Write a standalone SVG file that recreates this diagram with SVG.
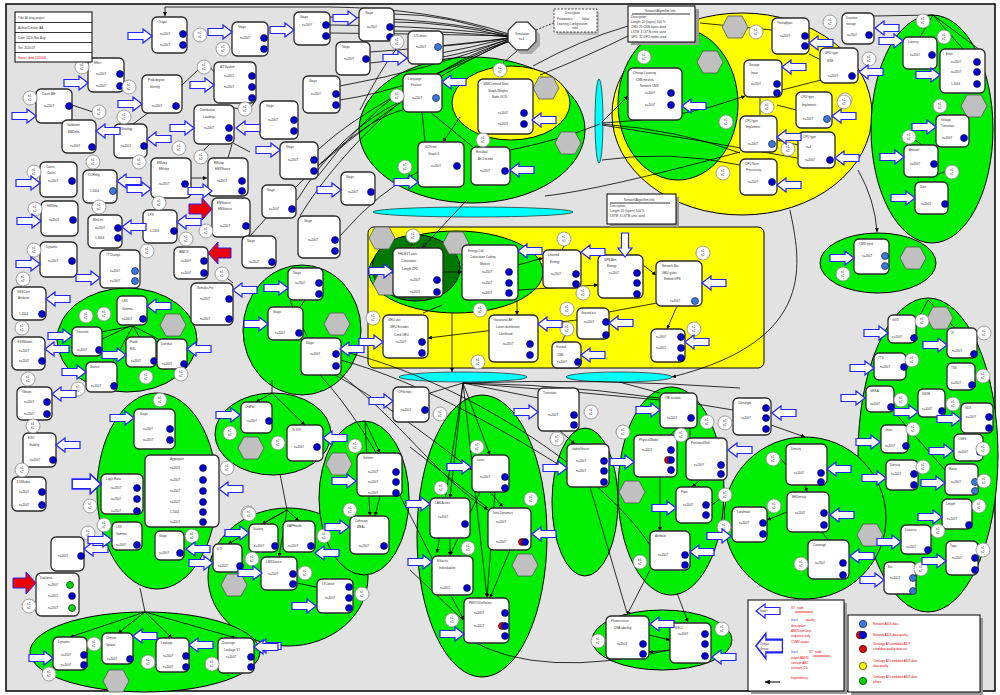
<svg xmlns="http://www.w3.org/2000/svg" xmlns:xlink="http://www.w3.org/1999/xlink" width="1000" height="695" viewBox="0 0 1000 695">
<style>
.t{font-family:"Liberation Sans",Arial,sans-serif;font-size:3px;fill:#333}
.tr{font-family:"Liberation Sans",Arial,sans-serif;font-size:3px;fill:#e00000}
.tb{font-family:"Liberation Sans",Arial,sans-serif;font-size:3px;fill:#3050ff}
.nd rect{fill:#fff;stroke:#2a2a2a;stroke-width:1.3}
.nd circle{fill:#0000d4;stroke:#111;stroke-width:.6}
.nd circle.lt{fill:#3a78e0}
.nd circle.rd{fill:#e00000}
.nd circle.gn{fill:#00d400}
.gr{fill:#00ee00;stroke:#000;stroke-width:1}
.yw{fill:#ffff00;stroke:#000;stroke-width:1}
.dg{fill:#007800;stroke:#000;stroke-width:1}
.cy{fill:#00ffff;stroke:#000;stroke-width:.6}
.hx{fill:#c0c0c0;stroke:#555;stroke-width:.8}
.ba{fill:#fff;stroke:#2222ff;stroke-width:1.2}
.ra{fill:#ee0000;stroke:#2222ff;stroke-width:1}
.cn path{stroke:#000;stroke-width:.8;fill:none}
.bx{fill:#fff;stroke:#000;stroke-width:1}
</style>
<defs>
<path id="ar" d="M0,0 L-9,-7 L-9,-3.5 L-24,-3.5 L-24,3.5 L-9,3.5 L-9,7 Z"/>
<path id="rar" d="M0,0 L-10,-11 L-10,-5 L-23,-5 L-23,5 L-10,5 L-10,11 Z"/>
<polygon id="hx" points="-13,0 -7,-11 7,-11 13,0 7,11 -7,11"/>
<g id="lc"><circle r="7" fill="#fff" stroke="#888" stroke-width=".8"/><text class="t" x="-2" y="-1">n1</text><text class="t" x="-2" y="3">n2</text></g>
<marker id="m" viewBox="0 0 6 6" refX="6" refY="3" markerWidth="5" markerHeight="5" orient="auto"><path d="M0,0 L6,3 L0,6 Z" fill="#000"/></marker>
</defs>
<rect width="1000" height="695" fill="#fff"/>
<rect x="6" y="4" width="989" height="687" fill="#e2e2e2" stroke="#000" stroke-width="1.5"/>

<g id="regions">
<ellipse class="gr" cx="472" cy="130" rx="113" ry="73"/>
<ellipse class="yw" cx="511" cy="103" rx="59" ry="37"/>
<ellipse class="yw" cx="742" cy="114" rx="130" ry="101"/>
<ellipse class="gr" cx="678" cy="104" rx="60" ry="76"/>
<ellipse class="gr" cx="932" cy="129" rx="61" ry="114"/>
<ellipse class="gr" cx="878" cy="263" rx="58" ry="30"/>
<ellipse class="gr" cx="928" cy="455" rx="70" ry="157"/>
<rect class="yw" x="368" y="227" width="396" height="141" rx="6"/>
<ellipse class="gr" cx="456" cy="272" rx="87" ry="41"/>
<ellipse class="dg" cx="416" cy="268" rx="44" ry="33"/>
<ellipse class="gr" cx="127" cy="340" rx="70" ry="52"/>
<ellipse class="gr" cx="302" cy="330" rx="59" ry="65"/>
<ellipse class="gr" cx="157" cy="491" rx="60" ry="98"/>
<ellipse class="gr" cx="273" cy="434" rx="58" ry="41"/>
<ellipse class="gr" cx="288" cy="577" rx="80" ry="69"/>
<ellipse class="gr" cx="364" cy="498" rx="45" ry="77"/>
<ellipse class="gr" cx="145" cy="652" rx="115" ry="40"/>
<ellipse class="gr" cx="482" cy="536" rx="65" ry="141"/>
<ellipse class="gr" cx="585" cy="502" rx="33" ry="74"/>
<ellipse class="gr" cx="671" cy="491" rx="53" ry="104"/>
<ellipse class="gr" cx="805" cy="518" rx="81" ry="81"/>
<ellipse class="gr" cx="662" cy="640" rx="70" ry="30"/>
<ellipse class="cy" cx="473" cy="212" rx="100" ry="5"/>
<ellipse class="cy" cx="463" cy="377" rx="64" ry="5"/>
<ellipse class="cy" cx="619" cy="377" rx="53" ry="5"/>
<ellipse class="cy" cx="599" cy="121" rx="4" ry="42"/>
</g>

<g id="connectors" class="cn">
<path d="M165,7 L330,7 Q430,8 509,34"/>
<path d="M165,7 L165,16" marker-end="url(#m)"/>
<path d="M509,35 Q440,18 330,17"/>
<path d="M509,36 Q440,26 330,25"/>
<path d="M509,36 Q430,34 330,33"/>
<path d="M509,37 Q450,14 394,14"/>
<path d="M509,37 Q450,22 394,22"/>
<path d="M509,37 Q450,31 394,31"/>
<path d="M509,38 Q430,48 370,52"/>
<path d="M509,38 Q430,58 370,63"/>
<path d="M509,38 Q470,44 443,46"/>
<path d="M509,39 Q470,52 443,57"/>
<path d="M509,39 Q430,70 340,86"/>
<path d="M509,40 Q420,88 340,100"/>
<path d="M509,40 C440,70 360,110 318,150"/>
<path d="M509,41 C420,80 350,140 318,166"/>
<path d="M536,30 L556,22" stroke-dasharray="2,1.5"/>
<path d="M518,50 L503,63"/>
<path d="M533,66 Q580,40 628,26"/>
<path d="M540,75 Q590,55 628,36"/>
<path d="M297,200 Q340,130 403,100"/>
<path d="M318,176 Q360,120 403,90"/>
<path d="M340,236 Q380,190 418,172"/>
<path d="M300,216 C340,150 430,60 509,42"/>
<path d="M250,236 C300,180 360,120 403,110"/>
<path d="M360,110 Q380,70 397,48"/>
<path d="M422,112 L425,142"/>
<path d="M430,112 L473,147"/>
<path d="M460,117 L443,142" marker-end="url(#m)"/>
<path d="M503,77 L500,75"/>
<path d="M510,150 Q560,140 600,124"/>
<path d="M545,196 Q600,190 740,152"/>
<path d="M467,200 L422,248" marker-end="url(#m)"/>
<path d="M602,122 L628,96" marker-end="url(#m)"/>
<path d="M602,123 Q680,120 745,96" marker-end="url(#m)"/>
<path d="M602,124 Q680,130 740,153"/>
<path d="M602,125 Q700,140 797,158"/>
<path d="M602,160 Q670,150 740,165"/>
<path d="M782,90 L821,80"/>
<path d="M777,105 L796,110"/>
<path d="M760,97 L760,116"/>
<path d="M777,140 L798,145"/>
<path d="M809,54 L821,60"/>
<path d="M700,23 L772,30"/>
<path d="M790,210 C800,260 820,340 672,377" marker-end="url(#m)"/>
<path d="M858,170 Q875,200 877,232" marker-end="url(#m)"/>
<path d="M874,16 L933,15"/>
<path d="M933,15 L920,37"/>
<path d="M933,15 L963,49"/>
<path d="M933,15 L980,50"/>
<path d="M922,145 L915,140"/>
<path d="M930,177 L950,170"/>
<path d="M182,85 L198,70"/>
<path d="M210,67 L214,72"/>
<path d="M148,113 L133,124"/>
<path d="M234,108 L240,109"/>
<path d="M251,107 L256,100"/>
<path d="M210,144 L203,151"/>
<path d="M233,143 L250,152"/>
<path d="M191,178 L207,178" marker-end="url(#m)"/>
<path d="M228,158 L232,144"/>
<path d="M124,85 L129,87"/>
<path d="M72,105 L93,112"/>
<path d="M246,236 L250,244"/>
<path d="M159,210 L159,203"/>
<path d="M222,274 L233,283"/>
<path d="M133,326 L95,333"/>
<path d="M133,326 L100,385"/>
<path d="M133,326 L140,338"/>
<path d="M133,326 L162,341"/>
<path d="M100,340 L130,326"/>
<path d="M300,375 C330,360 300,330 290,300"/>
<path d="M305,300 L300,307"/>
<path d="M330,372 C380,400 420,430 472,470" marker-end="url(#m)"/>
<path d="M335,370 C400,420 440,480 488,510" marker-end="url(#m)"/>
<path d="M320,375 C380,440 420,540 464,620" marker-end="url(#m)"/>
<path d="M340,360 C420,380 520,440 567,470"/>
<path d="M345,352 C460,380 600,470 650,545"/>
<path d="M410,447 L488,508"/>
<path d="M410,570 L463,620"/>
<path d="M272,380 L272,393"/>
<path d="M272,393 L256,402" marker-end="url(#m)"/>
<path d="M272,393 L305,425" marker-end="url(#m)"/>
<path d="M280,474 L287,510"/>
<path d="M287,510 L262,524" marker-end="url(#m)"/>
<path d="M287,510 L299,521" marker-end="url(#m)"/>
<path d="M287,510 L228,544" marker-end="url(#m)"/>
<path d="M287,510 L279,557" marker-end="url(#m)"/>
<path d="M297,583 L330,590"/>
<path d="M365,421 L380,453" marker-end="url(#m)"/>
<path d="M365,421 L370,516" marker-end="url(#m)"/>
<path d="M380,496 L375,516" marker-end="url(#m)"/>
<path d="M140,588 L145,612"/>
<path d="M145,612 L70,637" marker-end="url(#m)"/>
<path d="M145,612 L118,633" marker-end="url(#m)"/>
<path d="M145,612 L172,638" marker-end="url(#m)"/>
<path d="M145,612 L236,638" marker-end="url(#m)"/>
<path d="M463,383 L430,393"/>
<path d="M463,383 L538,398"/>
<path d="M463,383 L490,455" marker-end="url(#m)"/>
<path d="M463,383 L450,498" marker-end="url(#m)"/>
<path d="M463,383 L437,553" marker-end="url(#m)"/>
<path d="M463,383 L487,597" marker-end="url(#m)"/>
<path d="M463,383 Q560,390 660,400"/>
<path d="M463,383 Q600,385 733,410"/>
<path d="M463,383 Q600,378 740,388"/>
<path d="M452,313 L452,372" marker-end="url(#m)"/>
<path d="M490,492 L503,507" marker-end="url(#m)"/>
<path d="M480,492 L450,555" marker-end="url(#m)"/>
<path d="M495,492 L487,598" marker-end="url(#m)"/>
<path d="M510,550 L490,598" marker-end="url(#m)"/>
<path d="M450,538 L450,556" marker-end="url(#m)"/>
<path d="M590,487 L627,613"/>
<path d="M560,431 L575,444" marker-end="url(#m)"/>
<path d="M690,428 L690,438"/>
<path d="M678,428 L670,435"/>
<path d="M660,477 L660,531" marker-end="url(#m)"/>
<path d="M700,480 L692,487" marker-end="url(#m)"/>
<path d="M712,505 L725,495"/>
<path d="M650,570 L627,615" marker-end="url(#m)"/>
<path d="M677,593 L688,622" marker-end="url(#m)"/>
<path d="M619,382 L660,393"/>
<path d="M649,635 L670,640" marker-end="url(#m)"/>
<path d="M670,650 L649,652" marker-end="url(#m)"/>
<path d="M470,640 Q540,680 670,650"/>
<path d="M771,425 L805,437" marker-end="url(#m)"/>
<path d="M805,485 L807,492" marker-end="url(#m)"/>
<path d="M787,512 L767,520" marker-end="url(#m)"/>
<path d="M822,532 L828,540"/>
<path d="M781,459 L786,465"/>
<path d="M894,400 L901,400"/>
<path d="M907,430 L913,429"/>
<path d="M928,300 L907,340"/>
<path d="M928,300 L955,328"/>
<path d="M894,412 L945,470"/>
<path d="M443,272 L462,272" marker-end="url(#m)"/>
<path d="M518,265 L543,258" marker-end="url(#m)"/>
<path d="M518,290 L598,285" marker-end="url(#m)"/>
<path d="M643,265 L656,275" marker-end="url(#m)"/>
<path d="M423,313 L442,305"/>
<path d="M517,300 L517,315" marker-end="url(#m)"/>
<path d="M577,320 L428,338" marker-end="url(#m)"/>
<path d="M609,312 L657,303"/>
<path d="M677,306 L667,329" marker-end="url(#m)"/>
<path d="M567,330 L562,342"/>
<path d="M413,243 L410,248"/>
<path d="M564,246 L562,250"/>
</g>

<g id="octagon">
<polygon points="539.9,45.7 531.7,53.9 520.3,53.9 512.1,45.7 512.1,34.3 520.3,26.1 531.7,26.1 539.9,34.3" fill="#aaa"/>
<polygon points="535.9,41.7 527.7,49.9 516.3,49.9 508.1,41.7 508.1,30.3 516.3,22.1 527.7,22.1 535.9,30.3" fill="#fff" stroke="#333" stroke-width="1.2"/>
<text class="t" x="515" y="35">Simulation</text><text class="t" x="519" y="40">n=1</text>
</g>

<g id="hexagons">
<use href="#hx" class="hx" x="173" y="325"/><use href="#hx" class="hx" x="337" y="324"/>
<use href="#hx" class="hx" x="116" y="681"/><use href="#hx" class="hx" x="251" y="448"/>
<use href="#hx" class="hx" x="339" y="464"/><use href="#hx" class="hx" x="234" y="585"/>
<use href="#hx" class="hx" x="525" y="565"/><use href="#hx" class="hx" x="632" y="492"/>
<use href="#hx" class="hx" x="870" y="535"/><use href="#hx" class="hx" x="940" y="318"/>
<use href="#hx" class="hx" x="974" y="106"/><use href="#hx" class="hx" x="710" y="62"/>
<use href="#hx" class="hx" x="735" y="27"/><use href="#hx" class="hx" x="913" y="258"/>
<use href="#hx" class="hx" x="546" y="88"/><use href="#hx" class="hx" x="568" y="143"/>
<use href="#hx" class="hx" x="382" y="238"/><use href="#hx" class="hx" x="386" y="284"/>
<use href="#hx" class="hx" x="456" y="243"/>
</g>

<g id="n01" class="nd"><rect x="152" y="17" width="35" height="36" rx="5"/><circle cx="183" cy="34" r="3.5"/><circle cx="183" cy="45" r="3.5"/><text class="t" x="158" y="23">Output</text><text class="t" x="160" y="35">n=2007</text><text class="t" x="160" y="46">n=2007</text></g>
<g id="n02" class="nd"><rect x="232" y="22" width="36" height="34" rx="5"/><circle cx="264" cy="38" r="3.5"/><circle cx="264" cy="49" r="3.5"/><text class="t" x="238" y="28">Stage</text><text class="t" x="240" y="39">n=2007</text></g>
<g id="n03" class="nd"><rect x="294" y="12" width="36" height="33" rx="5"/><circle cx="326" cy="25" r="3.5"/><circle cx="326" cy="36" r="3.5"/><text class="t" x="300" y="18">Stage</text><text class="t" x="302" y="26">n=2007</text></g>
<g id="n04" class="nd"><rect x="359" y="8" width="35" height="33" rx="5"/><circle cx="390" cy="27" r="3.5"/><circle cx="390" cy="37" r="3.5"/><text class="t" x="365" y="14">Stage</text><text class="t" x="367" y="28">n=2007</text></g>
<g id="n05" class="nd"><rect x="336" y="42" width="34" height="33" rx="5"/><circle cx="366" cy="59" r="3.5"/><text class="t" x="342" y="48">Stage</text><text class="t" x="344" y="60">n=2007</text></g>
<g id="n06" class="nd"><rect x="408" y="31" width="35" height="33" rx="5"/><circle class="lt" cx="438" cy="47" r="3.5"/><text class="t" x="414" y="37">LTCohort</text><text class="t" x="416" y="48">n=2007</text></g>
<g id="n07" class="nd"><rect x="214" y="62" width="42" height="41" rx="5"/><circle cx="252" cy="76" r="3.5"/><circle cx="252" cy="87" r="3.5"/><circle cx="252" cy="98" r="3.5"/><text class="t" x="220" y="68">AITSystem</text><text class="t" x="224" y="77">n=2007</text><text class="t" x="224" y="88">n=2007</text></g>
<g id="n08" class="nd"><rect x="303" y="76" width="37" height="37" rx="5"/><circle cx="336" cy="94" r="3.5"/><circle cx="336" cy="105" r="3.5"/><text class="t" x="309" y="82">Stage</text><text class="t" x="311" y="95">n=2007</text></g>
<g id="n09" class="nd"><rect x="142" y="75" width="40" height="38" rx="5"/><circle cx="176" cy="106" r="3.5"/><text class="t" x="148" y="81">Prob.degree</text><text class="t" x="150" y="88">Identity</text><text class="t" x="152" y="107">n=2007</text></g>
<g id="n10" class="nd"><rect x="194" y="105" width="40" height="39" rx="5"/><circle cx="229" cy="128" r="3.5"/><circle cx="229" cy="138" r="3.5"/><text class="t" x="200" y="111">Distribution</text><text class="t" x="203" y="118">Loadings</text><text class="t" x="204" y="129">n=2007</text></g>
<g id="n11" class="nd"><rect x="260" y="101" width="38" height="38" rx="5"/><circle cx="294" cy="120" r="3.5"/><circle cx="294" cy="131" r="3.5"/><text class="t" x="266" y="107">Stage</text><text class="t" x="268" y="121">n=2007</text></g>
<g id="n12" class="nd"><rect x="280" y="142" width="38" height="37" rx="5"/><circle cx="314" cy="160" r="3.5"/><circle cx="314" cy="171" r="3.5"/><text class="t" x="286" y="148">Stage</text><text class="t" x="288" y="161">n=2007</text></g>
<g id="n13" class="nd"><rect x="88" y="58" width="36" height="34" rx="5"/><circle cx="120" cy="74" r="3.5"/><circle cx="120" cy="86" r="3.5"/><text class="t" x="94" y="64">Effect</text><text class="t" x="96" y="75">n=2007</text><text class="t" x="96" y="87">n=2007</text></g>
<g id="n14" class="nd"><rect x="36" y="89" width="36" height="34" rx="5"/><circle cx="69" cy="106" r="3.5"/><text class="t" x="42" y="95">Count ME</text><text class="t" x="44" y="107">n=2007</text></g>
<g id="n15" class="nd"><rect x="62" y="120" width="34" height="33" rx="5"/><circle cx="92" cy="147" r="3.5"/><text class="t" x="67" y="126">Validation</text><text class="t" x="68" y="133">EMDelta</text><text class="t" x="70" y="147">n=2007</text></g>
<g id="n16" class="nd"><rect x="114" y="124" width="33" height="34" rx="5"/><circle cx="144" cy="146" r="3.5"/><text class="t" x="119" y="130">NStrategy</text><text class="t" x="121" y="147">n=2007</text></g>
<g id="n17" class="nd"><rect x="40" y="162" width="37" height="35" rx="5"/><circle cx="72" cy="181" r="3.5"/><text class="t" x="46" y="168">Cases</text><text class="t" x="47" y="174">Cases</text><text class="t" x="48" y="182">n=2007</text></g>
<g id="n18" class="nd"><rect x="83" y="170" width="34" height="33" rx="5"/><circle class="lt" cx="113" cy="191" r="3.5"/><text class="t" x="88" y="176">CORtility</text><text class="t" x="90" y="192">1.0004</text></g>
<g id="n19" class="nd"><rect x="151" y="158" width="40" height="40" rx="5"/><circle cx="185" cy="184" r="3.5"/><text class="t" x="157" y="164">EMstep</text><text class="t" x="159" y="170">EMstep</text><text class="t" x="159" y="185">n=2007</text></g>
<g id="n20" class="nd"><rect x="208" y="158" width="40" height="38" rx="5"/><circle cx="242" cy="181" r="3.5"/><circle cx="242" cy="191" r="3.5"/><text class="t" x="214" y="164">RRstep</text><text class="t" x="215" y="170">EM3Stance</text><text class="t" x="217" y="182">n=2007</text></g>
<g id="n21" class="nd"><rect x="262" y="185" width="34" height="33" rx="5"/><circle cx="292" cy="209" r="3.5"/><text class="t" x="267" y="191">Stage</text><text class="t" x="269" y="210">n=2007</text></g>
<g id="n22" class="nd"><rect x="341" y="172" width="34" height="33" rx="5"/><circle cx="371" cy="192" r="3.5"/><text class="t" x="346" y="178">Stage</text><text class="t" x="348" y="193">n=2007</text></g>
<g id="n23" class="nd"><rect x="212" y="198" width="38" height="39" rx="5"/><circle cx="246" cy="226" r="3.5"/><text class="t" x="217" y="204">EMStance</text><text class="t" x="218" y="210">EMStance</text><text class="t" x="220" y="227">n=2007</text></g>
<g id="n24" class="nd"><rect x="298" y="216" width="42" height="42" rx="5"/><circle cx="335" cy="240" r="3.5"/><circle cx="335" cy="251" r="3.5"/><text class="t" x="304" y="222">Stage</text><text class="t" x="308" y="241">n=2007</text></g>
<g id="n25" class="nd"><rect x="242" y="236" width="34" height="32" rx="5"/><circle cx="272" cy="262" r="3.5"/><text class="t" x="247" y="242">Stage</text><text class="t" x="249" y="263">n=2007</text></g>
<g id="n26" class="nd"><rect x="174" y="247" width="34" height="32" rx="5"/><circle cx="204" cy="261" r="3.5"/><circle cx="204" cy="273" r="3.5"/><text class="t" x="179" y="253">IAMCS</text><text class="t" x="181" y="262">n=2007</text><text class="t" x="181" y="274">n=2007</text></g>
<g id="n27" class="nd"><rect x="143" y="210" width="34" height="33" rx="5"/><circle cx="174" cy="231" r="3.5"/><text class="t" x="148" y="216">LPS</text><text class="t" x="150" y="232">1.2004</text></g>
<g id="n28" class="nd"><rect x="88" y="215" width="34" height="33" rx="5"/><circle cx="118" cy="228" r="3.5"/><circle cx="118" cy="238" r="3.5"/><text class="t" x="93" y="221">MinLen</text><text class="t" x="95" y="229">n=2007</text><text class="t" x="95" y="239">1.2004</text></g>
<g id="n29" class="nd"><rect x="100" y="250" width="40" height="38" rx="5"/><circle class="lt" cx="135" cy="271" r="3.5"/><circle class="lt" cx="135" cy="281" r="3.5"/><text class="t" x="106" y="256">TTChange</text><text class="t" x="110" y="272">n=2007</text><text class="t" x="110" y="282">n=2007</text></g>
<g id="n30" class="nd"><rect x="41" y="201" width="37" height="35" rx="5"/><circle cx="73" cy="220" r="3.5"/><text class="t" x="47" y="207">EMStep</text><text class="t" x="49" y="221">n=2007</text></g>
<g id="n31" class="nd"><rect x="40" y="242" width="37" height="35" rx="5"/><circle cx="72" cy="261" r="3.5"/><text class="t" x="46" y="248">Dynamic</text><text class="t" x="48" y="262">n=2007</text></g>
<g id="n32" class="nd"><rect x="191" y="283" width="42" height="42" rx="5"/><circle cx="229" cy="299" r="3.5"/><circle cx="229" cy="319" r="3.5"/><text class="t" x="197" y="289">Stimulus Fix</text><text class="t" x="200" y="300">n=2007</text><text class="t" x="200" y="320">n=2007</text></g>
<g id="n33" class="nd"><rect x="12" y="287" width="34" height="33" rx="5"/><circle cx="42" cy="314" r="3.5"/><text class="t" x="17" y="293">GSSCore</text><text class="t" x="18" y="299">Attribute</text><text class="t" x="19" y="315">1.2004</text></g>
<g id="n34" class="nd"><rect x="12" y="337" width="33" height="33" rx="5"/><circle cx="42" cy="361" r="3.5"/><text class="t" x="17" y="343">GSSModes</text><text class="t" x="19" y="352">n=2007</text><text class="t" x="19" y="362">n=2007</text></g>
<g id="n35" class="nd"><rect x="117" y="296" width="30" height="29" rx="5"/><circle cx="143" cy="319" r="3.5"/><text class="t" x="122" y="302">LBS</text><text class="t" x="122" y="310">Gamma</text><text class="t" x="122" y="320">n=2007</text></g>
<g id="n36" class="nd"><rect x="72" y="327" width="30" height="29" rx="5"/><circle cx="99" cy="350" r="3.5"/><text class="t" x="76" y="333">Transient</text><text class="t" x="77" y="351">n=2007</text></g>
<g id="n37" class="nd"><rect x="126" y="337" width="30" height="30" rx="5"/><circle cx="154" cy="361" r="3.5"/><text class="t" x="130" y="343">Flood</text><text class="t" x="130" y="350">RXL</text><text class="t" x="131" y="362">n=2007</text></g>
<g id="n38" class="nd"><rect x="157" y="339" width="30" height="30" rx="5"/><circle cx="184" cy="364" r="3.5"/><text class="t" x="161" y="345">Distribut</text><text class="t" x="162" y="365">n=2007</text></g>
<g id="n39" class="nd"><rect x="86" y="362" width="31" height="30" rx="5"/><circle cx="114" cy="386" r="3.5"/><text class="t" x="90" y="368">Stance</text><text class="t" x="91" y="387">n=2007</text></g>
<g id="n40" class="nd"><rect x="288" y="268" width="35" height="32" rx="5"/><circle cx="319" cy="283" r="3.5"/><circle cx="319" cy="294" r="3.5"/><text class="t" x="293" y="274">Stage</text><text class="t" x="295" y="284">n=2007</text></g>
<g id="n41" class="nd"><rect x="268" y="307" width="35" height="33" rx="5"/><circle cx="299" cy="333" r="3.5"/><text class="t" x="273" y="313">Stage</text><text class="t" x="275" y="334">n=2007</text></g>
<g id="n42" class="nd"><rect x="301" y="338" width="40" height="37" rx="5"/><circle cx="336" cy="354" r="3.5"/><circle cx="336" cy="366" r="3.5"/><text class="t" x="306" y="344">Stage</text><text class="t" x="310" y="355">n=2007</text></g>
<g id="n43" class="nd"><rect x="17" y="387" width="35" height="33" rx="5"/><circle cx="47" cy="402" r="3.5"/><circle cx="47" cy="414" r="3.5"/><text class="t" x="22" y="393">Vibrate</text><text class="t" x="24" y="403">n=2007</text><text class="t" x="24" y="415">n=2007</text></g>
<g id="n44" class="nd"><rect x="23" y="433" width="33" height="34" rx="5"/><circle cx="53" cy="460" r="3.5"/><text class="t" x="28" y="439">EGO</text><text class="t" x="29" y="446">Stability</text><text class="t" x="30" y="461">n=2007</text></g>
<g id="n45" class="nd"><rect x="12" y="477" width="34" height="34" rx="5"/><circle cx="42" cy="492" r="3.5"/><circle cx="42" cy="505" r="3.5"/><text class="t" x="17" y="483">DDModes</text><text class="t" x="19" y="493">n=2007</text><text class="t" x="19" y="506">n=2007</text></g>
<g id="n46" class="nd"><rect x="134" y="409" width="41" height="40" rx="5"/><circle cx="170" cy="429" r="3.5"/><circle cx="170" cy="440" r="3.5"/><text class="t" x="140" y="415">Stage</text><text class="t" x="143" y="430">n=2007</text><text class="t" x="143" y="441">n=2007</text></g>
<g id="n47" class="nd"><rect x="145" y="455" width="74" height="72" rx="5"/><circle cx="203" cy="468" r="3.5"/><circle cx="203" cy="480" r="3.5"/><circle cx="203" cy="491" r="3.5"/><circle cx="203" cy="502" r="3.5"/><circle cx="203" cy="512" r="3.5"/><circle cx="203" cy="522" r="3.5"/><text class="t" x="170" y="460">Aggregate</text><text class="t" x="170" y="469">n=2007</text><text class="t" x="170" y="481">n=2007</text><text class="t" x="170" y="492">n=2007</text><text class="t" x="170" y="503">n=2007</text><text class="t" x="170" y="513">1.2004</text><text class="t" x="170" y="523">n=2007</text></g>
<g id="n48" class="nd"><rect x="101" y="474" width="42" height="40" rx="5"/><circle cx="137" cy="488" r="3.5"/><circle cx="137" cy="499" r="3.5"/><circle cx="137" cy="511" r="3.5"/><text class="t" x="106" y="480">Logic.Ratio</text><text class="t" x="111" y="489">n=2007</text><text class="t" x="111" y="500">n=2007</text><text class="t" x="111" y="512">n=2007</text></g>
<g id="n49" class="nd"><rect x="112" y="522" width="30" height="28" rx="5"/><circle cx="137" cy="545" r="3.5"/><text class="t" x="116" y="528">LSS</text><text class="t" x="116" y="535">Gamma</text><text class="t" x="116" y="546">n=2007</text></g>
<g id="n50" class="nd"><rect x="155" y="531" width="29" height="29" rx="5"/><circle cx="180" cy="553" r="3.5"/><text class="t" x="159" y="537">Stage</text><text class="t" x="159" y="554">n=2007</text></g>
<g id="n51" class="nd"><rect x="51" y="537" width="33" height="34" rx="5"/><circle cx="81" cy="556" r="3.5"/><text class="t" x="58" y="557">n=2007</text></g>
<g id="n52" class="nd"><rect x="36" y="573" width="43" height="43" rx="5"/><circle class="gn" cx="70" cy="585" r="3.5"/><circle cx="72" cy="596" r="3.5"/><circle class="gn" cx="72" cy="608" r="3.5"/><text class="t" x="40" y="579">Dualarea</text><text class="t" x="48" y="586">n=2007</text><text class="t" x="48" y="597">n=2007</text><text class="t" x="48" y="609">n=2007</text></g>
<g id="n53" class="nd"><rect x="53" y="637" width="34" height="33" rx="5"/><circle cx="84" cy="655" r="3.5"/><circle cx="84" cy="665" r="3.5"/><text class="t" x="58" y="643">Dynamic</text><text class="t" x="61" y="656">n=2007</text><text class="t" x="61" y="666">n=2007</text></g>
<g id="n54" class="nd"><rect x="102" y="633" width="31" height="31" rx="5"/><circle cx="130" cy="659" r="3.5"/><text class="t" x="106" y="639">Climate</text><text class="t" x="106" y="646">Spatial</text><text class="t" x="107" y="660">n=2007</text></g>
<g id="n55" class="nd"><rect x="156" y="638" width="33" height="34" rx="5"/><circle cx="186" cy="656" r="3.5"/><circle cx="186" cy="667" r="3.5"/><text class="t" x="161" y="644">Leakage</text><text class="t" x="163" y="657">n=2007</text><text class="t" x="163" y="668">n=2007</text></g>
<g id="n56" class="nd"><rect x="218" y="638" width="36" height="35" rx="5"/><circle cx="251" cy="657" r="3.5"/><circle cx="251" cy="667" r="3.5"/><text class="t" x="222" y="644">Coverage</text><text class="t" x="224" y="651">Leakage ST</text><text class="t" x="226" y="658">n=2007</text></g>
<g id="n57" class="nd"><rect x="241" y="402" width="31" height="31" rx="5"/><circle cx="269" cy="421" r="3.5"/><text class="t" x="245" y="408">CrdPwr</text><text class="t" x="247" y="422">n=2007</text></g>
<g id="n58" class="nd"><rect x="287" y="425" width="36" height="36" rx="5"/><circle cx="317" cy="447" r="3.5"/><text class="t" x="292" y="431">IS-SST</text><text class="t" x="294" y="448">n=2007</text></g>
<g id="n59" class="nd"><rect x="357" y="453" width="45" height="43" rx="5"/><circle cx="396" cy="472" r="3.5"/><circle cx="396" cy="482" r="3.5"/><circle cx="396" cy="493" r="3.5"/><text class="t" x="363" y="459">Volume</text><text class="t" x="368" y="473">n=2007</text><text class="t" x="368" y="483">n=2007</text><text class="t" x="368" y="494">n=2007</text></g>
<g id="n60" class="nd"><rect x="350" y="516" width="39" height="38" rx="5"/><circle cx="384" cy="546" r="3.5"/><text class="t" x="355" y="522">Cohesion</text><text class="t" x="357" y="528">MEAs</text><text class="t" x="359" y="547">n=2007</text></g>
<g id="n61" class="nd"><rect x="249" y="524" width="29" height="28" rx="5"/><circle cx="275" cy="546" r="3.5"/><text class="t" x="253" y="530">Scaling</text><text class="t" x="254" y="547">n=2007</text></g>
<g id="n62" class="nd"><rect x="283" y="521" width="32" height="31" rx="5"/><circle cx="311" cy="546" r="3.5"/><text class="t" x="287" y="527">EAPHealth</text><text class="t" x="288" y="547">n=2007</text></g>
<g id="n63" class="nd"><rect x="213" y="544" width="29" height="28" rx="5"/><circle cx="240" cy="566" r="3.5"/><text class="t" x="217" y="550">DTI</text><text class="t" x="218" y="567">n=2007</text></g>
<g id="n64" class="nd"><rect x="261" y="557" width="36" height="33" rx="5"/><circle cx="293" cy="574" r="3.5"/><circle cx="293" cy="584" r="3.5"/><text class="t" x="266" y="563">LMSSource</text><text class="t" x="268" y="575">n=2007</text></g>
<g id="n65" class="nd"><rect x="317" y="579" width="36" height="34" rx="5"/><circle cx="349" cy="587" r="3.5"/><circle cx="349" cy="598" r="3.5"/><circle cx="349" cy="608" r="3.5"/><text class="t" x="322" y="585">LTCohort</text><text class="t" x="325" y="599">n=2007</text></g>
<g id="n66" class="nd"><rect x="393" y="387" width="36" height="35" rx="5"/><circle cx="425" cy="410" r="3.5"/><text class="t" x="398" y="393">CFGsteps</text><text class="t" x="401" y="411">n=2007</text></g>
<g id="n67" class="nd"><rect x="538" y="388" width="41" height="43" rx="5"/><circle cx="574" cy="415" r="3.5"/><circle cx="574" cy="425" r="3.5"/><text class="t" x="543" y="394">Transition</text><text class="t" x="548" y="416">n=2007</text></g>
<g id="n68" class="nd"><rect x="472" y="455" width="37" height="37" rx="5"/><circle cx="505" cy="477" r="3.5"/><circle cx="505" cy="488" r="3.5"/><text class="t" x="477" y="461">Level</text><text class="t" x="480" y="478">n=2007</text></g>
<g id="n69" class="nd"><rect x="430" y="498" width="40" height="40" rx="5"/><circle cx="465" cy="524" r="3.5"/><text class="t" x="435" y="504">LAB.Action</text><text class="t" x="438" y="518">n=2007</text></g>
<g id="n70" class="nd"><rect x="488" y="508" width="43" height="42" rx="5"/><circle class="rd" cx="522" cy="542" r="3.5"/><circle cx="525" cy="542" r="3.5"/><text class="t" x="493" y="514">Intra.Dynamics</text><text class="t" x="496" y="523">n=2007</text><text class="t" x="496" y="543">n=2007</text></g>
<g id="n71" class="nd"><rect x="432" y="556" width="41" height="39" rx="5"/><circle cx="467" cy="588" r="3.5"/><text class="t" x="437" y="562">EStacks</text><text class="t" x="439" y="569">Individualize</text><text class="t" x="440" y="589">n=2007</text></g>
<g id="n72" class="nd"><rect x="464" y="598" width="45" height="45" rx="5"/><circle cx="505" cy="613" r="3.5"/><circle class="rd" cx="502" cy="626" r="3.5"/><circle cx="505" cy="626" r="3.5"/><circle cx="505" cy="636" r="3.5"/><text class="t" x="469" y="604">PBSTGDefinition</text><text class="t" x="474" y="614">n=2007</text><text class="t" x="474" y="627">n=2007</text></g>
<g id="n73" class="nd"><rect x="567" y="444" width="42" height="43" rx="5"/><circle cx="604" cy="461" r="3.5"/><circle cx="604" cy="471" r="3.5"/><circle cx="604" cy="482" r="3.5"/><text class="t" x="572" y="450">stableStructs</text><text class="t" x="576" y="462">n=2007</text><text class="t" x="576" y="472">n=2007</text></g>
<g id="n74" class="nd"><rect x="660" y="393" width="37" height="35" rx="5"/><circle cx="691" cy="418" r="3.5"/><text class="t" x="665" y="399">OBLocation</text><text class="t" x="667" y="419">n=2007</text></g>
<g id="n75" class="nd"><rect x="634" y="435" width="43" height="42" rx="5"/><circle cx="671" cy="450" r="3.5"/><circle class="rd" cx="668" cy="460" r="3.5"/><circle cx="671" cy="460" r="3.5"/><circle cx="671" cy="470" r="3.5"/><text class="t" x="639" y="441">PhysicalModel</text><text class="t" x="642" y="451">n=2007</text></g>
<g id="n76" class="nd"><rect x="686" y="438" width="41" height="42" rx="5"/><circle cx="721" cy="465" r="3.5"/><circle cx="721" cy="474" r="3.5"/><text class="t" x="691" y="444">PositionalShift</text><text class="t" x="694" y="466">n=2007</text></g>
<g id="n77" class="nd"><rect x="676" y="487" width="36" height="36" rx="5"/><circle cx="706" cy="505" r="3.5"/><circle cx="706" cy="515" r="3.5"/><text class="t" x="681" y="493">Flow</text><text class="t" x="683" y="506">n=2007</text></g>
<g id="n78" class="nd"><rect x="650" y="531" width="40" height="39" rx="5"/><circle cx="685" cy="555" r="3.5"/><circle cx="685" cy="565" r="3.5"/><text class="t" x="655" y="537">Attribute</text><text class="t" x="658" y="556">n=2007</text></g>
<g id="n79" class="nd"><rect x="733" y="398" width="38" height="37" rx="5"/><circle cx="766" cy="408" r="3.5"/><circle cx="766" cy="418" r="3.5"/><circle cx="766" cy="429" r="3.5"/><text class="t" x="738" y="404">Clonotype</text><text class="t" x="741" y="419">n=2007</text></g>
<g id="n80" class="nd"><rect x="606" y="616" width="43" height="43" rx="5"/><circle cx="643" cy="644" r="3.5"/><circle cx="643" cy="654" r="3.5"/><text class="t" x="611" y="622">Fluorescence</text><text class="t" x="614" y="629">DNA labeling</text><text class="t" x="617" y="645">n=2007</text></g>
<g id="n81" class="nd"><rect x="670" y="623" width="41" height="40" rx="5"/><circle cx="705" cy="634" r="3.5"/><circle cx="705" cy="644" r="3.5"/><circle cx="705" cy="656" r="3.5"/><text class="t" x="675" y="629">NSLC</text><text class="t" x="678" y="635">n=2007</text></g>
<g id="n82" class="nd"><rect x="786" y="444" width="41" height="41" rx="5"/><circle cx="821" cy="473" r="3.5"/><circle cx="821" cy="482" r="3.5"/><text class="t" x="791" y="450">Density</text><text class="t" x="794" y="474">n=2007</text></g>
<g id="n83" class="nd"><rect x="787" y="492" width="42" height="40" rx="5"/><circle cx="824" cy="513" r="3.5"/><circle cx="824" cy="525" r="3.5"/><text class="t" x="792" y="498">EEDensity</text><text class="t" x="795" y="514">n=2007</text></g>
<g id="n84" class="nd"><rect x="732" y="507" width="35" height="35" rx="5"/><circle cx="763" cy="523" r="3.5"/><circle cx="763" cy="534" r="3.5"/><text class="t" x="737" y="513">Landmark</text><text class="t" x="739" y="524">n=2007</text></g>
<g id="n85" class="nd"><rect x="808" y="540" width="41" height="39" rx="5"/><circle cx="843" cy="563" r="3.5"/><circle cx="843" cy="575" r="3.5"/><text class="t" x="813" y="546">Coverage</text><text class="t" x="815" y="564">n=2007</text></g>
<g id="n86" class="nd"><rect x="866" y="386" width="28" height="26" rx="5"/><circle cx="891" cy="407" r="3.5"/><text class="t" x="870" y="392">GRNA</text><text class="t" x="870" y="405">n=2007</text></g>
<g id="n87" class="nd"><rect x="918" y="389" width="27" height="28" rx="5"/><circle cx="942" cy="411" r="3.5"/><text class="t" x="922" y="395">SSSR</text><text class="t" x="922" y="410">n=2007</text></g>
<g id="n88" class="nd"><rect x="961" y="403" width="32" height="30" rx="5"/><circle cx="989" cy="417" r="3.5"/><circle cx="989" cy="428" r="3.5"/><text class="t" x="965" y="409">SDS</text><text class="t" x="966" y="418">n=2007</text></g>
<g id="n89" class="nd"><rect x="881" y="425" width="27" height="28" rx="5"/><circle cx="906" cy="446" r="3.5"/><text class="t" x="885" y="431">Gene</text><text class="t" x="885" y="447">n=2007</text></g>
<g id="n90" class="nd"><rect x="954" y="434" width="29" height="27" rx="5"/><circle cx="980" cy="452" r="3.5"/><text class="t" x="958" y="440">CSES</text><text class="t" x="958" y="453">n=2007</text></g>
<g id="n91" class="nd"><rect x="886" y="460" width="32" height="30" rx="5"/><circle cx="914" cy="474" r="3.5"/><circle cx="914" cy="485" r="3.5"/><text class="t" x="890" y="466">Density</text><text class="t" x="891" y="475">n=2007</text></g>
<g id="n92" class="nd"><rect x="945" y="464" width="33" height="31" rx="5"/><circle class="lt" cx="975" cy="482" r="3.5"/><circle class="lt" cx="975" cy="491" r="3.5"/><text class="t" x="949" y="470">Rarity</text><text class="t" x="951" y="483">n=2007</text></g>
<g id="n93" class="nd"><rect x="942" y="499" width="30" height="30" rx="5"/><circle cx="969" cy="525" r="3.5"/><text class="t" x="946" y="505">Length</text><text class="t" x="947" y="520">n=2007</text></g>
<g id="n94" class="nd"><rect x="901" y="525" width="30" height="29" rx="5"/><circle cx="928" cy="550" r="3.5"/><text class="t" x="905" y="531">Distance</text><text class="t" x="906" y="548">n=2007</text></g>
<g id="n95" class="nd"><rect x="946" y="541" width="32" height="34" rx="5"/><circle cx="975" cy="558" r="3.5"/><circle cx="975" cy="570" r="3.5"/><text class="t" x="950" y="547">Topic</text><text class="t" x="952" y="559">n=2007</text></g>
<g id="n96" class="nd"><rect x="884" y="562" width="32" height="32" rx="5"/><circle class="lt" cx="913" cy="578" r="3.5"/><circle class="lt" cx="913" cy="591" r="3.5"/><text class="t" x="888" y="568">Ext</text><text class="t" x="890" y="579">n=2007</text></g>
<g id="n97" class="nd"><rect x="888" y="315" width="28" height="28" rx="5"/><circle cx="914" cy="338" r="3.5"/><text class="t" x="892" y="321">GGS</text><text class="t" x="892" y="338">n=2007</text></g>
<g id="n98" class="nd"><rect x="947" y="328" width="30" height="30" rx="5"/><circle cx="974" cy="354" r="3.5"/><text class="t" x="951" y="334">SI</text><text class="t" x="952" y="352">n=2007</text></g>
<g id="n99" class="nd"><rect x="874" y="353" width="32" height="27" rx="5"/><circle cx="904" cy="367" r="3.5"/><text class="t" x="878" y="359">TTS</text><text class="t" x="880" y="368">n=2007</text></g>
<g id="n100" class="nd"><rect x="947" y="363" width="28" height="27" rx="5"/><circle cx="972" cy="385" r="3.5"/><text class="t" x="951" y="369">TSS</text><text class="t" x="951" y="384">n=2007</text></g>
<g id="n101" class="nd"><rect x="903" y="37" width="34" height="32" rx="5"/><circle cx="932" cy="55" r="3.5"/><text class="t" x="908" y="43">Latency</text><text class="t" x="910" y="56">n=2007</text></g>
<g id="n102" class="nd"><rect x="940" y="49" width="45" height="44" rx="5"/><circle cx="977" cy="62" r="3.5"/><circle cx="977" cy="72" r="3.5"/><circle cx="977" cy="84" r="3.5"/><text class="t" x="946" y="55">Error</text><text class="t" x="951" y="63">n=2007</text><text class="t" x="951" y="73">n=2007</text><text class="t" x="951" y="85">1.2004</text></g>
<g id="n103" class="nd"><rect x="936" y="115" width="33" height="32" rx="5"/><circle cx="964" cy="138" r="3.5"/><text class="t" x="941" y="121">Voltage</text><text class="t" x="941" y="127">Transition</text><text class="t" x="942" y="139">n=2007</text></g>
<g id="n104" class="nd"><rect x="904" y="145" width="34" height="32" rx="5"/><circle cx="934" cy="164" r="3.5"/><text class="t" x="909" y="151">Amount</text><text class="t" x="910" y="165">n=2007</text></g>
<g id="n105" class="nd"><rect x="915" y="182" width="33" height="32" rx="5"/><circle cx="945" cy="204" r="3.5"/><text class="t" x="920" y="188">Size</text><text class="t" x="921" y="205">n=2007</text></g>
<g id="n106" class="nd"><rect x="842" y="13" width="32" height="31" rx="5"/><circle cx="869" cy="35" r="3.5"/><text class="t" x="846" y="19">Duration</text><text class="t" x="846" y="25">storage</text><text class="t" x="847" y="36">n=2007</text></g>
<g id="n107" class="nd"><rect x="820" y="48" width="38" height="35" rx="5"/><circle cx="852" cy="76" r="3.5"/><text class="t" x="825" y="54">GPU type</text><text class="t" x="827" y="62">NSB</text><text class="t" x="828" y="77">n=2007</text></g>
<g id="n108" class="nd"><rect x="772" y="18" width="37" height="36" rx="5"/><circle cx="805" cy="36" r="3.5"/><circle cx="805" cy="46" r="3.5"/><text class="t" x="777" y="24">Throughput</text><text class="t" x="780" y="37">n=2007</text></g>
<g id="n109" class="nd"><rect x="744" y="60" width="38" height="37" rx="5"/><circle cx="777" cy="84" r="3.5"/><circle cx="777" cy="93" r="3.5"/><text class="t" x="749" y="66">Storage</text><text class="t" x="751" y="74">Input</text><text class="t" x="751" y="85">n=2007</text></g>
<g id="n110" class="nd"><rect x="796" y="92" width="36" height="36" rx="5"/><circle class="lt" cx="827" cy="119" r="3.5"/><text class="t" x="801" y="98">CPU type</text><text class="t" x="802" y="106">Implement</text><text class="t" x="803" y="120">n=2007</text></g>
<g id="n111" class="nd"><rect x="740" y="116" width="37" height="36" rx="5"/><circle class="lt" cx="772" cy="144" r="3.5"/><text class="t" x="745" y="122">CPU type</text><text class="t" x="746" y="128">Implement</text><text class="t" x="748" y="145">n=2007</text></g>
<g id="n112" class="nd"><rect x="798" y="132" width="37" height="36" rx="5"/><circle cx="830" cy="160" r="3.5"/><text class="t" x="803" y="138">CPU type</text><text class="t" x="806" y="148">n=4</text><text class="t" x="805" y="161">n=2007</text></g>
<g id="n113" class="nd"><rect x="740" y="159" width="37" height="36" rx="5"/><circle cx="772" cy="182" r="3.5"/><text class="t" x="745" y="165">CPU Num</text><text class="t" x="746" y="171">Processing</text><text class="t" x="748" y="183">n=2007</text></g>
<g id="n114" class="nd"><rect x="628" y="68" width="54" height="52" rx="5"/><circle cx="671" cy="93" r="3.5"/><circle cx="671" cy="105" r="3.5"/><text class="t" x="633" y="74">Change Learning</text><text class="t" x="636" y="81">CNN.meshes</text><text class="t" x="640" y="87">Network CNN</text><text class="t" x="645" y="94">n=2007</text><text class="t" x="645" y="106">n=2007</text></g>
<g id="n115" class="nd"><rect x="854" y="239" width="35" height="35" rx="5"/><circle class="lt" cx="885" cy="256" r="3.5"/><circle class="lt" cx="885" cy="266" r="3.5"/><text class="t" x="859" y="245">CMS Input</text><text class="t" x="862" y="257">n=2007</text></g>
<g id="n116" class="nd"><rect x="403" y="74" width="39" height="38" rx="5"/><circle class="lt" cx="436" cy="98" r="3.5"/><text class="t" x="408" y="80">Language</text><text class="t" x="411" y="86">Feature</text><text class="t" x="412" y="99">n=2007</text></g>
<g id="n117" class="nd"><rect x="478" y="79" width="55" height="55" rx="5"/><circle cx="524" cy="113" r="3.5"/><circle cx="524" cy="124" r="3.5"/><text class="t" x="483" y="85">GNN Defined Stats</text><text class="t" x="488" y="92">Graph.Weights</text><text class="t" x="492" y="98">Node-GCN</text><text class="t" x="498" y="114">n=2007</text><text class="t" x="498" y="125">n=2007</text></g>
<g id="n118" class="nd"><rect x="418" y="142" width="46" height="45" rx="5"/><circle cx="457" cy="166" r="3.5"/><text class="t" x="425" y="148">GCN mit</text><text class="t" x="428" y="155">Graph.S</text><text class="t" x="431" y="167">n=2007</text></g>
<g id="n119" class="nd"><rect x="471" y="147" width="39" height="38" rx="5"/><circle cx="505" cy="171" r="3.5"/><text class="t" x="476" y="153">Residual</text><text class="t" x="478" y="160">Att Decode</text><text class="t" x="480" y="172">n=2007</text></g>
<g id="n120" class="nd"><rect x="393" y="248" width="50" height="49" rx="5"/><circle cx="437" cy="280" r="3.5"/><circle cx="437" cy="292" r="3.5"/><text class="t" x="398" y="255">FHDEST stats</text><text class="t" x="401" y="262">Covariation</text><text class="t" x="402" y="270">Length CPD</text><text class="t" x="410" y="281">n=2007</text><text class="t" x="410" y="293">n=2007</text></g>
<g id="n121" class="nd"><rect x="462" y="245" width="56" height="55" rx="5"/><circle cx="509" cy="272" r="3.5"/><circle cx="509" cy="283" r="3.5"/><circle cx="509" cy="293" r="3.5"/><text class="t" x="468" y="252">Energy-Cell</text><text class="t" x="470" y="258">Covariation Coding</text><text class="t" x="480" y="265">Mixture</text><text class="t" x="482" y="273">n=2007</text><text class="t" x="482" y="284">n=2007</text><text class="t" x="482" y="294">n=2007</text></g>
<g id="n122" class="nd"><rect x="543" y="250" width="38" height="38" rx="5"/><circle cx="576" cy="274" r="3.5"/><circle cx="576" cy="284" r="3.5"/><text class="t" x="548" y="256">Learned</text><text class="t" x="550" y="263">Energy</text><text class="t" x="551" y="275">n=2007</text></g>
<g id="n123" class="nd"><rect x="598" y="255" width="45" height="43" rx="5"/><circle cx="637" cy="273" r="3.5"/><circle cx="637" cy="283" r="3.5"/><circle cx="637" cy="294" r="3.5"/><text class="t" x="604" y="261">GPE Attn</text><text class="t" x="607" y="267">Energy</text><text class="t" x="609" y="274">n=2007</text></g>
<g id="n124" class="nd"><rect x="656" y="261" width="46" height="45" rx="5"/><circle class="lt" cx="695" cy="301" r="3.5"/><text class="t" x="662" y="267">Network Mix</text><text class="t" x="662" y="274">GRU gates</text><text class="t" x="664" y="280">Embed GPE</text><text class="t" x="670" y="302">n=2007</text></g>
<g id="n125" class="nd"><rect x="383" y="315" width="45" height="43" rx="5"/><circle cx="422" cy="342" r="3.5"/><circle cx="422" cy="353" r="3.5"/><text class="t" x="388" y="321">GRU stat</text><text class="t" x="390" y="328">GRU Encoder</text><text class="t" x="394" y="336">Cond-GRU</text><text class="t" x="396" y="343">n=2007</text></g>
<g id="n126" class="nd"><rect x="489" y="315" width="49" height="47" rx="5"/><circle cx="530" cy="344" r="3.5"/><circle cx="530" cy="355" r="3.5"/><text class="t" x="494" y="321">Variational AE</text><text class="t" x="496" y="328">Latent distribution</text><text class="t" x="499" y="335">Likelihood</text><text class="t" x="503" y="345">n=2007</text></g>
<g id="n127" class="nd"><rect x="577" y="308" width="32" height="31" rx="5"/><circle cx="606" cy="322" r="3.5"/><circle cx="606" cy="335" r="3.5"/><text class="t" x="581" y="314">Ground est</text><text class="t" x="584" y="323">n=2007</text></g>
<g id="n128" class="nd"><rect x="552" y="342" width="29" height="26" rx="5"/><circle cx="578" cy="362" r="3.5"/><text class="t" x="556" y="348">Ground</text><text class="t" x="557" y="356">CNN</text><text class="t" x="557" y="363">n=2007</text></g>
<g id="n129" class="nd"><rect x="651" y="329" width="34" height="33" rx="5"/><circle cx="681" cy="337" r="3.5"/><circle cx="681" cy="348" r="3.5"/><circle cx="681" cy="358" r="3.5"/><text class="t" x="656" y="338">n=2007</text><text class="t" x="656" y="349">n=2007</text></g>

<g id="labels">
<use href="#lc" x="200" y="35"/><use href="#lc" x="223" y="49"/><use href="#lc" x="82" y="67"/><use href="#lc" x="129" y="87"/><use href="#lc" x="99" y="112"/><use href="#lc" x="30" y="98"/><use href="#lc" x="124" y="117"/><use href="#lc" x="204" y="67"/><use href="#lc" x="245" y="109"/><use href="#lc" x="179" y="148"/><use href="#lc" x="201" y="157"/><use href="#lc" x="93" y="162"/><use href="#lc" x="139" y="162"/><use href="#lc" x="34" y="172"/>
<use href="#lc" x="35" y="209"/><use href="#lc" x="99" y="207"/><use href="#lc" x="159" y="203"/><use href="#lc" x="34" y="250"/><use href="#lc" x="147" y="251"/><use href="#lc" x="186" y="239"/><use href="#lc" x="206" y="231"/><use href="#lc" x="222" y="274"/><use href="#lc" x="23" y="279"/><use href="#lc" x="22" y="328"/><use href="#lc" x="28" y="379"/><use href="#lc" x="86" y="316"/><use href="#lc" x="104" y="314"/><use href="#lc" x="146" y="377"/><use href="#lc" x="181" y="374"/>
<use href="#lc" x="78" y="389"/><use href="#lc" x="160" y="400"/><use href="#lc" x="33" y="426"/><use href="#lc" x="22" y="470"/><use href="#lc" x="227" y="468"/><use href="#lc" x="90" y="506"/><use href="#lc" x="104" y="525"/><use href="#lc" x="88" y="533"/><use href="#lc" x="192" y="536"/><use href="#lc" x="248" y="513"/>
<use href="#lc" x="230" y="433"/><use href="#lc" x="278" y="443"/><use href="#lc" x="355" y="446"/><use href="#lc" x="350" y="510"/><use href="#lc" x="249" y="514"/><use href="#lc" x="324" y="536"/><use href="#lc" x="252" y="559"/><use href="#lc" x="305" y="573"/><use href="#lc" x="362" y="594"/>
<use href="#lc" x="440" y="414"/><use href="#lc" x="591" y="412"/><use href="#lc" x="557" y="439"/><use href="#lc" x="477" y="447"/><use href="#lc" x="531" y="499"/><use href="#lc" x="441" y="488"/><use href="#lc" x="468" y="548"/><use href="#lc" x="452" y="620"/><use href="#lc" x="623" y="432"/><use href="#lc" x="681" y="435"/><use href="#lc" x="707" y="422"/><use href="#lc" x="725" y="423"/><use href="#lc" x="725" y="495"/><use href="#lc" x="724" y="527"/><use href="#lc" x="640" y="562"/><use href="#lc" x="722" y="629"/><use href="#lc" x="598" y="641"/>
<use href="#lc" x="773" y="459"/><use href="#lc" x="774" y="506"/><use href="#lc" x="801" y="564"/><use href="#lc" x="901" y="400"/><use href="#lc" x="953" y="404"/><use href="#lc" x="913" y="429"/><use href="#lc" x="983" y="449"/><use href="#lc" x="923" y="467"/><use href="#lc" x="984" y="481"/><use href="#lc" x="979" y="506"/><use href="#lc" x="938" y="531"/><use href="#lc" x="983" y="550"/><use href="#lc" x="921" y="569"/>
<use href="#lc" x="923" y="21"/><use href="#lc" x="944" y="37"/><use href="#lc" x="869" y="59"/><use href="#lc" x="845" y="100"/><use href="#lc" x="940" y="106"/><use href="#lc" x="909" y="137"/><use href="#lc" x="952" y="172"/><use href="#lc" x="843" y="274"/><use href="#lc" x="922" y="321"/><use href="#lc" x="984" y="333"/><use href="#lc" x="912" y="360"/><use href="#lc" x="983" y="376"/>
<use href="#lc" x="644" y="57"/><use href="#lc" x="756" y="32"/><use href="#lc" x="830" y="22"/><use href="#lc" x="767" y="107"/><use href="#lc" x="844" y="102"/><use href="#lc" x="726" y="122"/><use href="#lc" x="788" y="149"/><use href="#lc" x="723" y="173"/>
<use href="#lc" x="500" y="70"/><use href="#lc" x="397" y="96"/><use href="#lc" x="483" y="140"/><use href="#lc" x="405" y="167"/><use href="#lc" x="397" y="42"/>
<use href="#lc" x="413" y="236"/><use href="#lc" x="564" y="239"/><use href="#lc" x="703" y="253"/><use href="#lc" x="583" y="293"/><use href="#lc" x="480" y="310"/><use href="#lc" x="373" y="318"/><use href="#lc" x="567" y="309"/><use href="#lc" x="567" y="329"/><use href="#lc" x="478" y="362"/><use href="#lc" x="694" y="329"/>
<use href="#lc" x="29" y="606"/><use href="#lc" x="94" y="644"/><use href="#lc" x="148" y="662"/><use href="#lc" x="212" y="664"/><use href="#lc" x="49" y="674"/>
</g>

<g id="inputs">
<use href="#ar" class="ba" transform="translate(152,36)"/><use href="#ar" class="ba" transform="translate(232,32)"/><use href="#ar" class="ba" transform="translate(294,30)"/><use href="#ar" class="ba" transform="translate(357,18)"/><use href="#ar" class="ba" transform="translate(88,83)"/><use href="#ar" class="ba" transform="translate(36,116)"/><use href="#ar" class="ba" transform="translate(96,131) rotate(180)"/><use href="#ar" class="ba" transform="translate(142,104)"/><use href="#ar" class="ba" transform="translate(147,139) rotate(180)"/><use href="#ar" class="ba" transform="translate(194,128)"/><use href="#ar" class="ba" transform="translate(214,85)"/><use href="#ar" class="ba" transform="translate(236,128) rotate(180)"/><use href="#ar" class="ba" transform="translate(40,183)"/><use href="#ar" class="ba" transform="translate(117,181) rotate(180)"/><use href="#ar" class="ba" transform="translate(151,189)"/><use href="#ar" class="ba" transform="translate(212,191)"/><use href="#ar" class="ba" transform="translate(341,190)"/><use href="#ar" class="ba" transform="translate(280,150)"/>
<use href="#ar" class="ba" transform="translate(41,221)"/><use href="#ar" class="ba" transform="translate(40,264)"/><use href="#ar" class="ba" transform="translate(122,227) rotate(180)"/><use href="#ar" class="ba" transform="translate(177,222) rotate(180)"/><use href="#ar" class="ba" transform="translate(100,278)"/><use href="#ar" class="ba" transform="translate(46,299) rotate(180)"/><use href="#ar" class="ba" transform="translate(233,290) rotate(180)"/><use href="#ar" class="ba" transform="translate(72,336)"/><use href="#ar" class="ba" transform="translate(45,349) rotate(180)"/><use href="#ar" class="ba" transform="translate(147,306) rotate(180)"/><use href="#ar" class="ba" transform="translate(86,372)"/><use href="#ar" class="ba" transform="translate(126,355)"/><use href="#ar" class="ba" transform="translate(187,349) rotate(180)"/><use href="#ar" class="ba" transform="translate(340,349) rotate(180)"/><use href="#ar" class="ba" transform="translate(268,324)"/><use href="#ar" class="ba" transform="translate(288,288)"/>
<use href="#ar" class="ba" transform="translate(52,394) rotate(180)"/><use href="#ar" class="ba" transform="translate(56,445) rotate(180)"/><use href="#ar" class="ba" transform="translate(101,484) scale(1.2,1.4)"/><use href="#ar" class="ba" transform="translate(134,418)"/><use href="#ar" class="ba" transform="translate(219,489) rotate(180)"/>
<use href="#ar" class="ba" transform="translate(240,415)"/><use href="#ar" class="ba" transform="translate(323,438) rotate(180)"/><use href="#ar" class="ba" transform="translate(356,481)"/><use href="#ar" class="ba" transform="translate(349,527)"/><use href="#ar" class="ba" transform="translate(315,553) rotate(180)"/><use href="#ar" class="ba" transform="translate(249,533)"/><use href="#ar" class="ba" transform="translate(262,573)"/><use href="#ar" class="ba" transform="translate(316,606)"/><use href="#ar" class="ba" transform="translate(393,401)"/><use href="#ar" class="ba" transform="translate(430,504)"/><use href="#ar" class="ba" transform="translate(432,562)"/><use href="#ar" class="ba" transform="translate(257,646) rotate(180)"/>
<use href="#ar" class="ba" transform="translate(538,412)"/><use href="#ar" class="ba" transform="translate(471,467)"/><use href="#ar" class="ba" transform="translate(567,468)"/><use href="#ar" class="ba" transform="translate(532,534) rotate(180)"/><use href="#ar" class="ba" transform="translate(464,634)"/><use href="#ar" class="ba" transform="translate(634,462)"/><use href="#ar" class="ba" transform="translate(660,410)"/><use href="#ar" class="ba" transform="translate(728,450) rotate(180)"/><use href="#ar" class="ba" transform="translate(676,508)"/><use href="#ar" class="ba" transform="translate(690,552) rotate(180)"/><use href="#ar" class="ba" transform="translate(731,536)"/><use href="#ar" class="ba" transform="translate(650,624) rotate(180)"/><use href="#ar" class="ba" transform="translate(712,657) rotate(180)"/>
<use href="#ar" class="ba" transform="translate(772,413) rotate(180)"/><use href="#ar" class="ba" transform="translate(827,469) rotate(180)"/><use href="#ar" class="ba" transform="translate(830,515) rotate(180)"/><use href="#ar" class="ba" transform="translate(850,556) rotate(180)"/><use href="#ar" class="ba" transform="translate(865,398)"/><use href="#ar" class="ba" transform="translate(880,442)"/><use href="#ar" class="ba" transform="translate(918,412)"/><use href="#ar" class="ba" transform="translate(961,419)"/><use href="#ar" class="ba" transform="translate(886,478)"/><use href="#ar" class="ba" transform="translate(953,451)"/><use href="#ar" class="ba" transform="translate(945,483)"/><use href="#ar" class="ba" transform="translate(942,517)"/><use href="#ar" class="ba" transform="translate(901,542)"/><use href="#ar" class="ba" transform="translate(946,561)"/><use href="#ar" class="ba" transform="translate(884,580)"/>
<use href="#ar" class="ba" transform="translate(875,28) rotate(180)"/><use href="#ar" class="ba" transform="translate(903,41)"/><use href="#ar" class="ba" transform="translate(859,72) rotate(180)"/><use href="#ar" class="ba" transform="translate(940,75)"/><use href="#ar" class="ba" transform="translate(936,127)"/><use href="#ar" class="ba" transform="translate(904,157)"/><use href="#ar" class="ba" transform="translate(915,198)"/><use href="#ar" class="ba" transform="translate(854,258)"/><use href="#ar" class="ba" transform="translate(888,333)"/><use href="#ar" class="ba" transform="translate(947,345)"/><use href="#ar" class="ba" transform="translate(874,368)"/>
<use href="#ar" class="ba" transform="translate(682,106) rotate(180)"/><use href="#ar" class="ba" transform="translate(782,67) rotate(180)"/><use href="#ar" class="ba" transform="translate(809,43) rotate(180)"/><use href="#ar" class="ba" transform="translate(832,116) rotate(180)"/><use href="#ar" class="ba" transform="translate(777,137) rotate(180)"/><use href="#ar" class="ba" transform="translate(835,158) rotate(180)"/><use href="#ar" class="ba" transform="translate(777,185) rotate(180)"/>
<use href="#ar" class="ba" transform="translate(407,58)"/><use href="#ar" class="ba" transform="translate(442,82) rotate(180)"/><use href="#ar" class="ba" transform="translate(532,120) rotate(180)"/><use href="#ar" class="ba" transform="translate(510,170) rotate(180)"/><use href="#ar" class="ba" transform="translate(418,182)"/>
<use href="#ar" class="ba" transform="translate(518,251) rotate(180)"/><use href="#ar" class="ba" transform="translate(581,252) rotate(180)"/><use href="#ar" class="ba" transform="translate(625,257) rotate(90)"/><use href="#ar" class="ba" transform="translate(702,283) rotate(180)"/><use href="#ar" class="ba" transform="translate(393,271)"/><use href="#ar" class="ba" transform="translate(383,342)"/><use href="#ar" class="ba" transform="translate(538,324) rotate(180)"/><use href="#ar" class="ba" transform="translate(609,323) rotate(180)"/><use href="#ar" class="ba" transform="translate(581,355) rotate(180)"/><use href="#ar" class="ba" transform="translate(685,342) rotate(180)"/>
<use href="#ar" class="ba" transform="translate(84,549) rotate(180)"/><use href="#ar" class="ba" transform="translate(112,540)"/><use href="#ar" class="ba" transform="translate(186,549) rotate(180)"/><use href="#ar" class="ba" transform="translate(213,563)"/><use href="#ar" class="ba" transform="translate(53,658)"/><use href="#ar" class="ba" transform="translate(133,636) rotate(180)"/><use href="#ar" class="ba" transform="translate(189,645) rotate(180)"/><use href="#ar" class="ba" transform="translate(254,647) rotate(180)"/>
<use href="#rar" class="ra" transform="translate(212,209)"/><use href="#rar" class="ra" transform="translate(208,253) rotate(180)"/><use href="#rar" class="ra" transform="translate(36,583)"/>
</g>

<g id="legend-top">
<rect class="bx" x="15" y="12" width="77" height="50"/>
<path d="M15,22.5 H92 M15,32.5 H92 M15,42.5 H92 M15,52.5 H92" stroke="#000" stroke-width=".8"/>
<text class="t" x="18" y="18.5">Title: AI drug project</text>
<text class="t" x="18" y="28.5">Author/Creator: AA</text>
<text class="t" x="18" y="38.5">Date: 2020-Nov-Aug</text>
<text class="t" x="18" y="48.5">Ver: 2020-07</text>
<text class="tr" x="18" y="58.5">Status: draft 2020/08</text>
</g>
<g id="note1">
<rect x="557" y="12" width="42" height="23" fill="#bbb"/>
<rect x="554" y="9" width="43" height="23" fill="#fff" stroke="#000" stroke-width=".7" stroke-dasharray="2,1.5"/>
<text class="t" x="565" y="14">Description</text><text class="t" x="557" y="20">Parameters</text><text class="t" x="582" y="20">Value</text><text class="t" x="557" y="25">Learning Configuration</text><text class="t" x="572" y="29">note</text>
</g>
<g id="note2">
<rect x="631" y="9" width="68" height="36" fill="#999"/>
<rect class="bx" x="628" y="6" width="67" height="36"/>
<text class="t" x="645" y="12">Network/Algorithm Info</text><path d="M632,14 H690" stroke="#000" stroke-width=".8"/>
<text class="t" x="631" y="18">Description:</text><text class="t" x="631" y="23">Length: 20 (layers) 100 %</text><text class="t" x="631" y="28">CNN: 20 CNN layers deep</text><text class="t" x="631" y="33">LSTM: 4 LSTM units used</text><text class="t" x="631" y="38">GPU: 32 GPU nodes used</text>
</g>
<g id="note3">
<rect x="610" y="197" width="69" height="30" fill="#999"/>
<rect class="bx" x="607" y="194" width="69" height="30"/>
<text class="t" x="624" y="201">Network/Algorithm Info</text><path d="M610,203 H670" stroke="#000" stroke-width=".8"/>
<text class="t" x="610" y="207">Description:</text><text class="t" x="610" y="212">Length: 20 (layers) 100 %</text><text class="t" x="610" y="217">LSTM: 4 LSTM units used</text>
</g>

<g id="legend-bottom">
<rect x="751" y="603" width="96" height="91" fill="#999"/>
<rect class="bx" x="748" y="600" width="96" height="91"/>
<use href="#ar" class="ba" transform="translate(756,611) rotate(180)"/>
<use href="#ar" class="ba" transform="translate(756,646) rotate(180) scale(1.1,1.8)"/>
<text class="t" x="760" y="612">Input</text><text class="t" x="760" y="645">Output</text><text class="t" x="760" y="650">Group</text>
<text class="tr" x="791" y="609">ST</text><text class="tr" x="797" y="609">node</text><path d="M795,612 H813" stroke="#e00" stroke-width=".8"/>
<text class="tb" x="791" y="621">Input</text><text class="tr" x="806" y="621">quality</text>
<text class="tr" x="791" y="627">description</text><text class="tr" x="791" y="632">AMODoutCase</text><text class="tr" x="791" y="637">sequence only</text><text class="tr" x="791" y="643">CVMS output</text>
<text class="tb" x="791" y="653">Input</text><text class="tr" x="809" y="653">ST</text><text class="tr" x="815" y="653">node</text><path d="M813,656 H830" stroke="#e00" stroke-width=".8"/>
<text class="tr" x="791" y="659">output AMOD</text><text class="tr" x="791" y="664">concept ABC</text><text class="tr" x="791" y="669">variation CG</text>
<text class="tr" x="791" y="679">Dependency</text>
<path d="M780,682 L765,682" stroke="#000" stroke-width="1" marker-end="url(#m)"/>
<rect x="851" y="618" width="132" height="77" fill="#999"/>
<rect class="bx" x="848" y="615" width="132" height="77"/>
<circle cx="863" cy="624" r="3.7" fill="#3a78e0" stroke="#111" stroke-width=".6"/>
<circle cx="860" cy="635" r="3.7" fill="#e00000" stroke="#111" stroke-width=".6"/><circle cx="863" cy="635" r="3.7" fill="#0000d4" stroke="#111" stroke-width=".6"/>
<circle cx="863" cy="649" r="3.7" fill="#e00000" stroke="#111" stroke-width=".6"/>
<circle cx="863" cy="666" r="3.7" fill="#ffff00" stroke="#111" stroke-width=".6"/>
<circle cx="863" cy="681" r="3.7" fill="#00d400" stroke="#111" stroke-width=".6"/>
<text class="tr" x="873" y="625">Network AIDT data</text>
<text class="tr" x="873" y="636">Network AIDT data quality</text>
<text class="tr" x="873" y="645">Ontology AT candidate AIDT</text><text class="tr" x="873" y="650">candidate quality data set</text>
<text class="tr" x="873" y="662">Ontology AT candidate AIDT data</text><text class="tr" x="873" y="667">data quality</text>
<text class="tr" x="873" y="678">Ontology AT candidate AIDT data</text><text class="tr" x="873" y="683">others</text>
</g>
</svg>
